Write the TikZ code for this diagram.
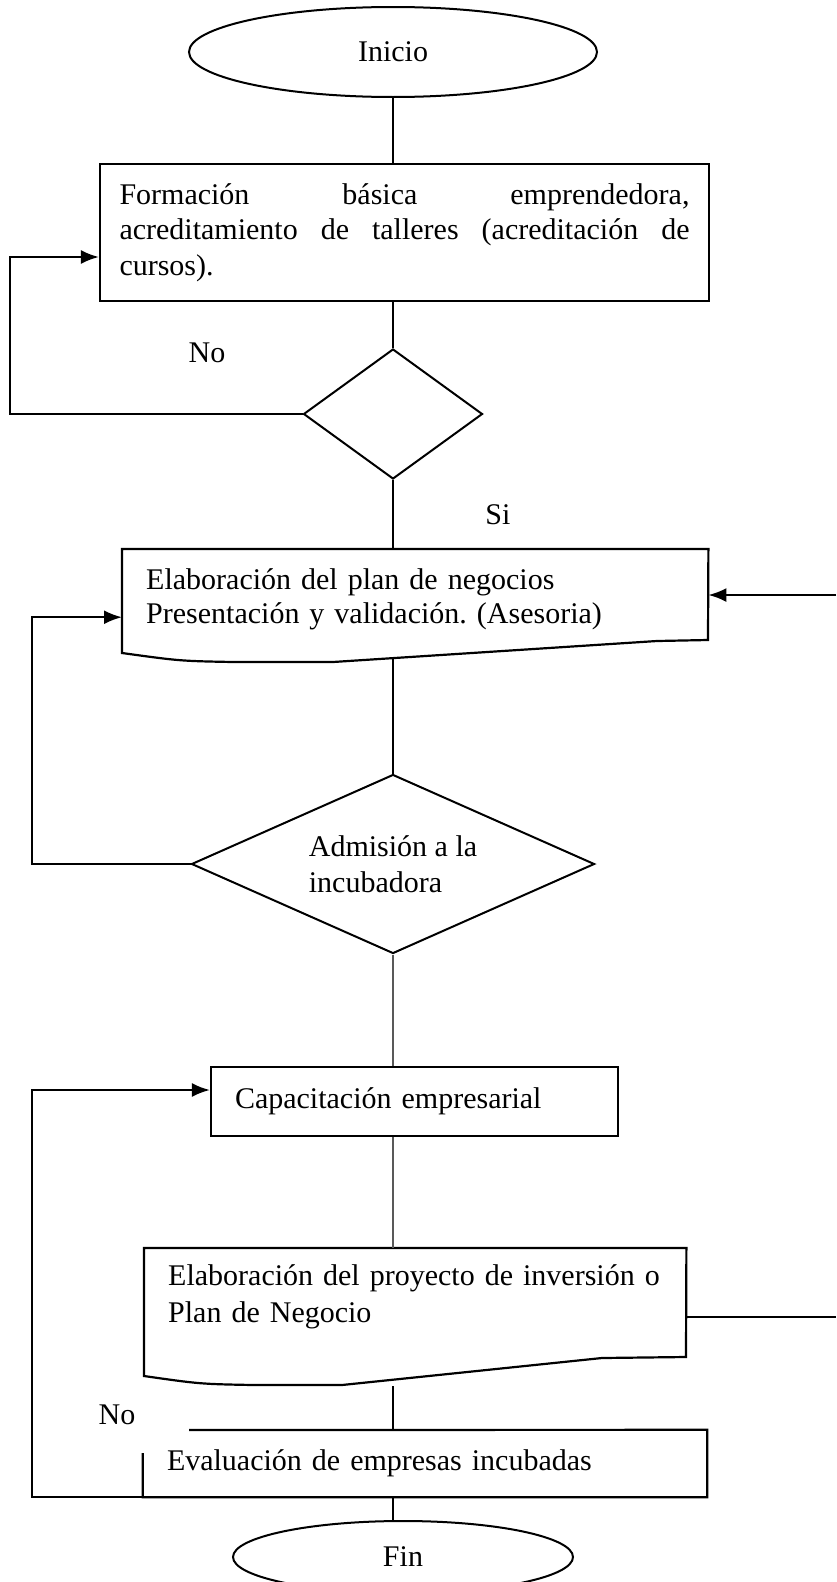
\documentclass[tikz,border=0pt]{standalone}
\usepackage{fontspec}
\setmainfont{Liberation Serif}
\usetikzlibrary{shapes.geometric,arrows.meta,positioning}
\frenchspacing

\begin{document}
\begin{tikzpicture}[
    x=1pt,y=-1pt,
    line/.style={line width=2.2pt},
    thinline/.style={line width=1.3pt,draw=black!65},
    arr/.style={line,-{Latex[length=18pt,width=14pt]}},
    term/.style={draw,ellipse,line width=2pt,inner sep=0pt,font=\fontsize{30}{36}\selectfont},
    box/.style={draw,rectangle,line width=2.2pt,inner sep=0pt,font=\fontsize{30}{36}\selectfont},
    docbox/.style={rectangle,inner sep=0pt,align=left},
    decision/.style={draw,diamond,aspect=2.25,line width=2pt,inner sep=0pt},
    lbl/.style={inner sep=0pt,font=\fontsize{30}{36}\selectfont}
]
\useasboundingbox (0,0) rectangle (836,1582);

% start and first stage
\node[term,minimum width=408,minimum height=90] (ini) at (393,52) {Inicio};
\node[box,minimum width=609,minimum height=137,text width=570,align=justify,
      font=\fontsize{30}{35.5}\selectfont] (formacion) at (404.5,232.5)
    {Formación básica emprendedora,\linebreak acreditamiento de talleres (acreditación de\linebreak cursos).};
\node[decision,minimum width=179,minimum height=130] (dec1) at (393,414) {};
\node[lbl] (no1) at (207,353) {No};
\node[lbl] (si) at (498,515) {Si};

% business plan (document shape)
\node[docbox,anchor=north west,minimum width=586,minimum height=100,text width=538,
      font=\fontsize{30}{34}\selectfont] (plan) at (122,549)
    {Elaboración del plan de negocios\\Presentación y validación. (Asesoria)};
\draw[line] (plan.north west) -- (plan.north east) -- (708,640) -- (657,641) -- (333,662)
    -- (233,662) .. controls (180,661) .. (122,653) -- cycle;
\coordinate (plan-b) at (393,659);

\node[decision,minimum width=403,minimum height=179,align=left,
      font=\fontsize{30}{36}\selectfont] (dec2) at (393,864) {Admisión a la\\incubadora};

\node[box,minimum width=407,minimum height=69,text width=359,align=left] (capac) at (414.5,1101.5)
    {Capacitación empresarial};

% investment project (document shape)
\node[docbox,anchor=north west,minimum width=542,minimum height=97,text width=494,
      font=\fontsize{30}{37}\selectfont] (proyecto) at (144,1248)
    {Elaboración del proyecto de inversión o\\Plan de Negocio};
\draw[line] (proyecto.north west) -- (proyecto.north east) -- (686,1357) -- (602,1358) -- (342,1385)
    -- (253,1385) .. controls (200,1384) .. (144,1376) -- cycle;
\coordinate (proy-b) at (393,1386);

\node[lbl] (no2) at (117,1415) {No};
\node[docbox,minimum width=564,minimum height=67,text width=516,
      font=\fontsize{30}{36}\selectfont] (evalua) at (425,1463.5)
    {Evaluación de empresas incubadas};
\draw[line] (189,1430) -- (evalua.north east) -- (evalua.south east) -- (evalua.south west) -- ++(0,-44);

\node[term,minimum width=340,minimum height=72] (fin) at (403,1557) {Fin};

% loop and edge points
\coordinate (lp1) at (10,0);
\coordinate (lp2) at (32,0);
\coordinate (rt1) at (836,595);
\coordinate (rt2) at (836,1317);

% connectors
\draw[line] (ini.south) -- (ini.south |- formacion.north);
\draw[line] (dec1 |- formacion.south) -- (dec1.north);
\draw[arr] (dec1.west) -- (dec1.west -| lp1) |- ([yshift=-24.5pt]formacion.west);
\draw[line] (dec1.south) -- (dec1.south |- plan.north);
\draw[arr] (rt1) -- (rt1 -| plan.east);
\draw[line] (plan-b) -- (dec2.north);
\draw[arr] (dec2.west) -- (dec2.west -| lp2) |- ([yshift=-18pt]plan.west);
\draw[thinline] (dec2.south) -- (dec2.south |- capac.north);
\draw[thinline] (capac.south -| dec2) -- (dec2 |- proyecto.north);
\draw[line] (proyecto.east |- rt2) -- (rt2);
\draw[line] (proy-b) -- (dec2 |- evalua.north);
\draw[arr] (evalua.south west) -- (evalua.south west -| lp2) |- ([yshift=11.5pt]capac.west);
\draw[line] (dec2 |- evalua.south) -- (dec2 |- fin.north);
\end{tikzpicture}
\end{document}
